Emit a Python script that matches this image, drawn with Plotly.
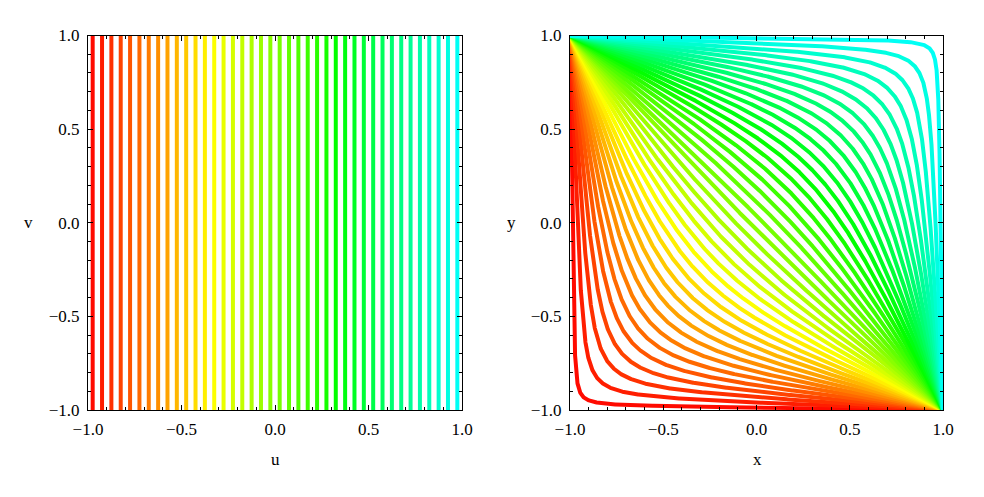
import numpy as np
import colorsys
import plotly.graph_objects as go

# ---- data ----
U_VALUES = [-0.975, -0.925, -0.875, -0.825, -0.775, -0.725, -0.675, -0.625,
            -0.575, -0.525, -0.475, -0.425, -0.375, -0.325, -0.275, -0.225,
            -0.175, -0.125, -0.075, -0.025, 0.025, 0.075, 0.125, 0.175,
            0.225, 0.275, 0.325, 0.375, 0.425, 0.475, 0.525, 0.575,
            0.625, 0.675, 0.725, 0.775, 0.825, 0.875, 0.925, 0.975]
V_SPAN = [-1.0, 1.0]
TICK_VALS = [-1.0, -0.5, 0.0, 0.5, 1.0]
TICK_TEXT = ["\u22121.0", "\u22120.5", "0.0", "0.5", "1.0"]
AXIS_TITLES = {"left_x": "u", "left_y": "v", "right_x": "x", "right_y": "y"}

ROUNDNESS = 2.5  # smoothing exponent of the mapped curves


def hue_color(u):
    r, g, b = colorsys.hsv_to_rgb((u + 1) / 4.0, 1.0, 1.0)
    return f"rgb({int(round(r*255))},{int(round(g*255))},{int(round(b*255))})"


def mapped_curve(u, p=ROUNDNESS, n=900):
    # image of the line u = const: smooth path (-1,1) -> near (u,u) -> (1,-1)
    lam = np.log((1 - u) / (1 + u))
    th = np.linspace(0, np.pi / 2, n)
    a = lam * np.abs(np.cos(th)) ** (2 / p)
    b = lam * np.abs(np.sin(th)) ** (2 / p)
    X = np.expm1(b) / np.expm1(a + b)
    Y = 1 - np.exp(a) * X
    return 2 * X - 1, 2 * Y - 1


fig = go.Figure()
LW = 4
for u in U_VALUES:
    c = hue_color(u)
    fig.add_trace(go.Scatter(x=[u, u], y=V_SPAN, mode="lines",
                             line=dict(color=c, width=LW),
                             xaxis="x", yaxis="y", showlegend=False,
                             hoverinfo="skip"))
for u in U_VALUES:
    c = hue_color(u)
    xs, ys = mapped_curve(u)
    fig.add_trace(go.Scatter(x=xs, y=ys, mode="lines",
                             line=dict(color=c, width=LW),
                             xaxis="x2", yaxis="y2", showlegend=False,
                             hoverinfo="skip"))

W, H = 984, 497
FONT = dict(family="Liberation Serif, Times New Roman, serif", size=17, color="black")


def ax(domain, anchor):
    return dict(domain=domain, anchor=anchor, range=[-1, 1], automargin=False,
                showgrid=False, zeroline=False,
                showline=True, linecolor="black", linewidth=1, mirror="allticks",
                ticks="inside", ticklen=5, tickwidth=1, tickcolor="black",
                tickvals=TICK_VALS, ticktext=TICK_TEXT, tickfont=FONT,
                ticklabelstandoff=4,
                minor=dict(ticks="inside", dtick=0.1, ticklen=3, tickwidth=1,
                           tickcolor="black", showgrid=False))


lx = [88 / W, 462 / W]
rx = [570 / W, 943 / W]
yd = [(H - 410) / H, (H - 35.5) / H]

fig.update_layout(
    width=W, height=H, margin=dict(l=0, r=0, t=0, b=0),
    paper_bgcolor="white", plot_bgcolor="white",
    xaxis=ax(lx, "y"), yaxis=ax(yd, "x"),
    xaxis2=ax(rx, "y2"), yaxis2=ax(yd, "x2"),
    font=FONT,
    annotations=[
        dict(text=AXIS_TITLES["left_x"], x=275 / W, y=(H - 459) / H, xref="paper", yref="paper",
             showarrow=False, font=FONT, xanchor="center", yanchor="middle"),
        dict(text=AXIS_TITLES["left_y"], x=28 / W, y=(H - 222) / H, xref="paper", yref="paper",
             showarrow=False, font=FONT, xanchor="center", yanchor="middle"),
        dict(text=AXIS_TITLES["right_x"], x=757 / W, y=(H - 459) / H, xref="paper", yref="paper",
             showarrow=False, font=FONT, xanchor="center", yanchor="middle"),
        dict(text=AXIS_TITLES["right_y"], x=511 / W, y=(H - 222) / H, xref="paper", yref="paper",
             showarrow=False, font=FONT, xanchor="center", yanchor="middle"),
    ],
)

fig.write_html("out.html", config={"displayModeBar": False},
               post_script="document.body.style.margin='0px';document.body.style.overflow='hidden';")
